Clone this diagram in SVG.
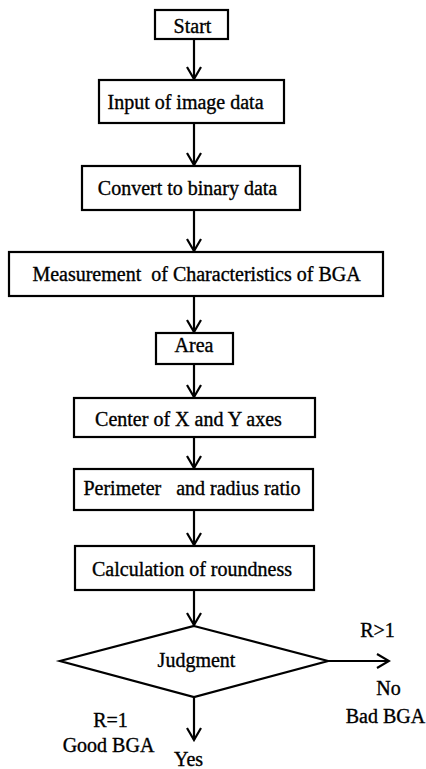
<svg xmlns="http://www.w3.org/2000/svg" width="426" height="769" viewBox="0 0 426 769">
<style>
.box{fill:#fff;stroke:#000;stroke-width:2.2}
.t{font-family:"Liberation Serif","Times New Roman",serif;font-size:20px;fill:#000;stroke:#000;stroke-width:0.35;text-anchor:middle}
.c{stroke:#000;stroke-width:2.2;fill:none}
</style>
<defs>
<marker id="arr" markerUnits="userSpaceOnUse" viewBox="-14 -9 16 18" refX="0" refY="0" markerWidth="16" markerHeight="18" orient="auto">
<path d="M-12,-7 L0,0 L-12,7" fill="none" stroke="#000" stroke-width="2.2"/>
</marker>
</defs>
<rect width="426" height="769" fill="#fff"/>
<g id="connectors">
<line class="c" x1="194" y1="39" x2="194" y2="79" marker-end="url(#arr)"/>
<line class="c" x1="194" y1="123" x2="194" y2="165" marker-end="url(#arr)"/>
<line class="c" x1="194" y1="210" x2="194" y2="251" marker-end="url(#arr)"/>
<line class="c" x1="194" y1="296" x2="194" y2="332" marker-end="url(#arr)"/>
<line class="c" x1="194" y1="364" x2="194" y2="397" marker-end="url(#arr)"/>
<line class="c" x1="194" y1="437" x2="194" y2="468" marker-end="url(#arr)"/>
<line class="c" x1="194" y1="510" x2="194" y2="545" marker-end="url(#arr)"/>
<line class="c" x1="194" y1="590" x2="194" y2="625" marker-end="url(#arr)"/>
<line class="c" x1="328" y1="661" x2="389" y2="661" marker-end="url(#arr)"/>
<line class="c" x1="194" y1="697" x2="194" y2="740" marker-end="url(#arr)"/>
</g>
<g id="start"><rect class="box" x="155" y="10" width="73" height="29"/><text class="t" x="192.5" y="33">Start</text></g>
<g id="input"><rect class="box" x="99" y="80" width="185" height="43"/><text class="t" x="185.5" y="109">Input of image data</text></g>
<g id="convert"><rect class="box" x="82" y="166" width="218" height="44"/><text class="t" x="187.5" y="195">Convert to binary data</text></g>
<g id="measurement"><rect class="box" x="9" y="252" width="374" height="44"/><text class="t" x="196.5" y="281" xml:space="preserve">Measurement  of Characteristics of BGA</text></g>
<g id="area"><rect class="box" x="156" y="333" width="77" height="31"/><text class="t" x="194" y="352">Area</text></g>
<g id="center"><rect class="box" x="74" y="398" width="241" height="39"/><text class="t" x="188.5" y="426">Center of X and Y axes</text></g>
<g id="perimeter"><rect class="box" x="74" y="469" width="239" height="41"/><text class="t" x="192" y="495" xml:space="preserve">Perimeter   and radius ratio</text></g>
<g id="calculation"><rect class="box" x="75" y="546" width="239" height="44"/><text class="t" x="192" y="576">Calculation of roundness</text></g>
<g id="judgment"><polygon class="box" points="194,626 328,661 194,697 60,661"/><text class="t" x="196.5" y="667">Judgment</text></g>
<g id="labels">
<text class="t" x="377.5" y="637">R&gt;1</text>
<text class="t" x="388.5" y="695">No</text>
<text class="t" x="385.5" y="723">Bad BGA</text>
<text class="t" x="110.5" y="727">R=1</text>
<text class="t" x="108.5" y="752">Good BGA</text>
<text class="t" x="188.5" y="766">Yes</text>
</g>
</svg>
